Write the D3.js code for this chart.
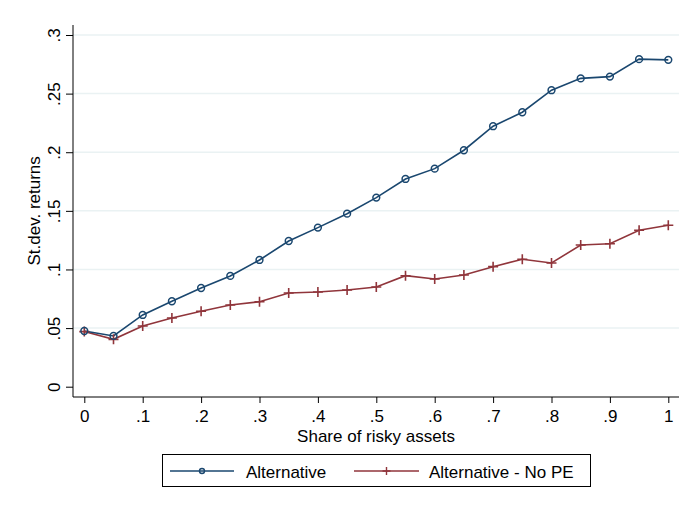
<!DOCTYPE html>
<html>
<head>
<meta charset="utf-8">
<script src="https://cdn.jsdelivr.net/npm/d3@7"></script>
<style>
  html, body { margin: 0; padding: 0; background: #ffffff; }
  svg { display: block; font-family: "Liberation Sans", Arial, sans-serif; }
</style>
</head>
<body>
<svg id="chart" width="693" height="510"></svg>
<script>
const shares = [0, .05, .1, .15, .2, .25, .3, .35, .4, .45, .5, .55, .6, .65, .7, .75, .8, .85, .9, .95, 1];
const alternative = [0.0475, 0.0433, 0.0612, 0.0729, 0.0842, 0.0945, 0.1081, 0.1243, 0.1357, 0.1476,
                     0.1613, 0.1772, 0.1860, 0.2017, 0.2222, 0.2341, 0.2529, 0.2630, 0.2645, 0.2794, 0.2788];
const alternativeNoPE = [0.0470, 0.0404, 0.0518, 0.0586, 0.0643, 0.0697, 0.0725, 0.0799, 0.0808, 0.0825,
                         0.0850, 0.0947, 0.0919, 0.0953, 0.1024, 0.1087, 0.1055, 0.1209, 0.1220, 0.1334, 0.1377];
const seriesNames = ["Alternative", "Alternative - No PE"];
const xTicks = [0, .1, .2, .3, .4, .5, .6, .7, .8, .9, 1];
const xTickLabels = ["0", ".1", ".2", ".3", ".4", ".5", ".6", ".7", ".8", ".9", "1"];
const yTicks = [0, .05, .1, .15, .2, .25, .3];
const yTickLabels = ["0", ".05", ".1", ".15", ".2", ".25", ".3"];
const xTitle = "Share of risky assets";
const yTitle = "St.dev. returns";

const FS = 17;
const svg = d3.select("#chart");
const plot = { left: 73, right: 679, top: 25, bottom: 397 };
const x = d3.scaleLinear().domain([0, 1]).range([84.3, 668.3]);
const y = d3.scaleLinear().domain([0, 0.3]).range([386.7, 35]);

const blue = "#1a476f", red = "#90353b";

// gridlines
svg.append("g").selectAll("line").data(yTicks.filter(d => d > 0)).join("line")
  .attr("x1", plot.left).attr("x2", plot.right)
  .attr("y1", d => y(d)).attr("y2", d => y(d))
  .attr("stroke", "#eaf2f3").attr("stroke-width", 1.5);

// axes
const xAxis = d3.axisBottom(x).tickValues(xTicks)
  .tickFormat((d, i) => xTickLabels[i]).tickSize(6).tickSizeOuter(0).tickPadding(7);
const gx = svg.append("g").attr("transform", `translate(0,${plot.bottom})`).call(xAxis);
gx.select(".domain").remove();
gx.selectAll("line").attr("stroke", "#000");
gx.selectAll("text").attr("font-size", FS).attr("fill", "#000")
  .attr("font-family", "'Liberation Sans', Arial, sans-serif");

const yAxis = d3.axisLeft(y).tickValues(yTicks)
  .tickFormat((d, i) => yTickLabels[i]).tickSize(7).tickSizeOuter(0);
const gy = svg.append("g").attr("transform", `translate(${plot.left},0)`).call(yAxis);
gy.select(".domain").remove();
gy.selectAll("line").attr("stroke", "#000");
gy.selectAll("text")
  .attr("font-size", FS).attr("fill", "#000")
  .attr("font-family", "'Liberation Sans', Arial, sans-serif")
  .attr("x", null).attr("dy", null)
  .attr("text-anchor", "middle")
  .attr("transform", "translate(-13,0) rotate(-90)");

svg.append("line").attr("x1", plot.left).attr("x2", plot.right)
  .attr("y1", plot.bottom).attr("y2", plot.bottom).attr("stroke", "#000").attr("stroke-width", 1);
svg.append("line").attr("x1", plot.left).attr("x2", plot.left)
  .attr("y1", plot.top).attr("y2", plot.bottom).attr("stroke", "#000").attr("stroke-width", 1);

// titles
svg.append("text").attr("x", (plot.left + plot.right) / 2).attr("y", 442)
  .attr("text-anchor", "middle").attr("font-size", FS).attr("fill", "#000").text(xTitle);
svg.append("text").attr("transform", `translate(40,${y(0.15)}) rotate(-90)`)
  .attr("text-anchor", "middle").attr("font-size", FS).attr("fill", "#000").text(yTitle);

// series
const line = d3.line().x((d, i) => x(shares[i])).y(d => y(d));
svg.append("path").datum(alternativeNoPE).attr("d", line)
  .attr("fill", "none").attr("stroke", red).attr("stroke-width", 1.6);
svg.append("path").datum(alternative).attr("d", line)
  .attr("fill", "none").attr("stroke", blue).attr("stroke-width", 1.6);

const plusPath = s => `M${-s},0H${s}M0,${-s}V${s}`;
svg.append("g").selectAll("path").data(alternativeNoPE).join("path")
  .attr("transform", (d, i) => `translate(${x(shares[i])},${y(d)})`)
  .attr("d", plusPath(5)).attr("stroke", red).attr("stroke-width", 1.6).attr("fill", "none");
svg.append("g").selectAll("circle").data(alternative).join("circle")
  .attr("cx", (d, i) => x(shares[i])).attr("cy", d => y(d)).attr("r", 3.4)
  .attr("fill", "none").attr("stroke", blue).attr("stroke-width", 1.5);

// legend
const lg = svg.append("g");
lg.append("rect").attr("x", 162.5).attr("y", 454.5).attr("width", 428).attr("height", 32)
  .attr("fill", "#fff").attr("stroke", "#000").attr("stroke-width", 1);
const ly = 471;
lg.append("line").attr("x1", 170).attr("x2", 234).attr("y1", ly).attr("y2", ly)
  .attr("stroke", blue).attr("stroke-width", 1.6);
lg.append("circle").attr("cx", 202).attr("cy", ly).attr("r", 2.5)
  .attr("fill", "none").attr("stroke", blue).attr("stroke-width", 1.4);
lg.append("text").attr("x", 246).attr("y", ly + 6.5).attr("font-size", FS).attr("fill", "#000").text(seriesNames[0]);
lg.append("line").attr("x1", 354).attr("x2", 419).attr("y1", ly).attr("y2", ly)
  .attr("stroke", red).attr("stroke-width", 1.6);
lg.append("path").attr("transform", `translate(386.5,${ly})`).attr("d", plusPath(4))
  .attr("stroke", red).attr("stroke-width", 1.4);
lg.append("text").attr("x", 429).attr("y", ly + 6.5).attr("font-size", FS).attr("fill", "#000").text(seriesNames[1]);
</script>
</body>
</html>
